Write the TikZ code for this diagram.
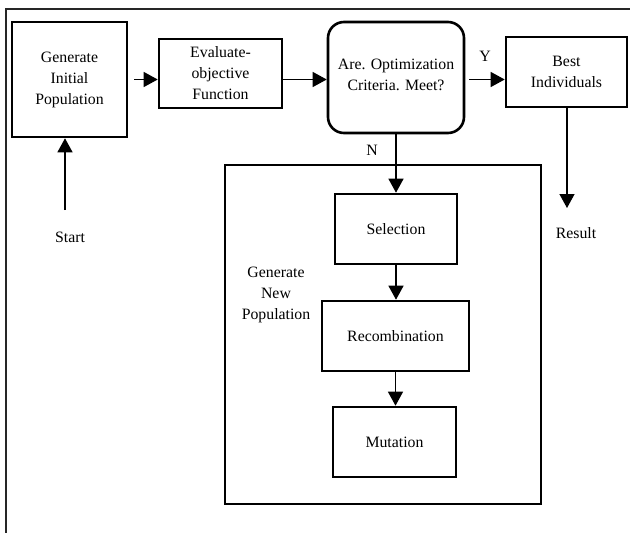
\documentclass[tikz,border=0pt]{standalone}
\usepackage{fontspec}
\setmainfont{Liberation Serif}
\usetikzlibrary{arrows.meta,calc}
\begin{document}
\begin{tikzpicture}[x=1pt,y=-1pt,
  every node/.style={font=\fontsize{15.8}{21}\selectfont, align=center, inner sep=0pt},
  box/.style={draw, line width=2.6pt, minimum width=#1},
  box/.default=120,
  arr/.style={line width=1.3pt, -{Triangle[length=14pt,width=15pt]}},
  plain/.style={line width=1.3pt},
  frame/.style={line width=2pt, draw=black!85}]
\useasboundingbox (0,0) rectangle (630,533);

% outer frame (top and left edges)
\draw[frame] (630,9) -- (6,9) -- (6,533);

% enclosing box of the new-population loop
\node[draw, line width=2pt, minimum width=316pt, minimum height=339pt] (inner) at (383,334.5) {};

% main flow
\node[box=115pt, minimum height=115pt] (gip) at (69.5,79.5) {Generate\\Initial\\Population};
\node[box=123pt, minimum height=69pt] (eval) at (220.5,73.5) {Evaluate-\\objective\\Function};
\node[draw, line width=2.6pt, rounded corners=16pt, minimum width=136pt, minimum height=111pt] (dec) at (396,77.5) {};
\node (dectext) at (396,75) {Are. Optimization\\Criteria. Meet?};
\node[box=121pt, minimum height=70pt] (best) at (566.5,72) {Best\\Individuals};

% inner steps
\node[box=122pt, minimum height=70pt] (sel) at (396,229) {Selection};
\node[box=147pt, minimum height=70pt] (rec) at (395.5,336) {Recombination};
\node[box=123pt, minimum height=70pt] (mut) at (394.5,442) {Mutation};

% labels
\node (start) at (70,237) {Start};
\node (result) at (576,233) {Result};
\node (gnp) at (276,295) {Generate\\New\\Population};
\node (ylab) at (485,56) {Y};
\node (nlab) at (372,150) {N};
\coordinate (startpt) at (65,210);
\coordinate (respt) at (567,208);

% connectors
\draw[arr] ([xshift=6pt]gip.east) -- (gip.east -| eval.west);
\draw[arr] (eval.east |- gip.east) -- (gip.east -| dec.west);
\draw[arr] ([xshift=4pt]dec.east |- gip.east) -- (gip.east -| best.west);
\draw[arr] (startpt) -- (startpt |- gip.south);
\draw[arr] (respt |- best.south) -- (respt);
\draw[arr] (dec.south -| sel.north) -- (sel.north);
\draw[arr] (sel.south) -- (sel.south |- rec.north);
\draw[arr] (rec.south) -- (rec.south |- mut.north);
\end{tikzpicture}
\end{document}
